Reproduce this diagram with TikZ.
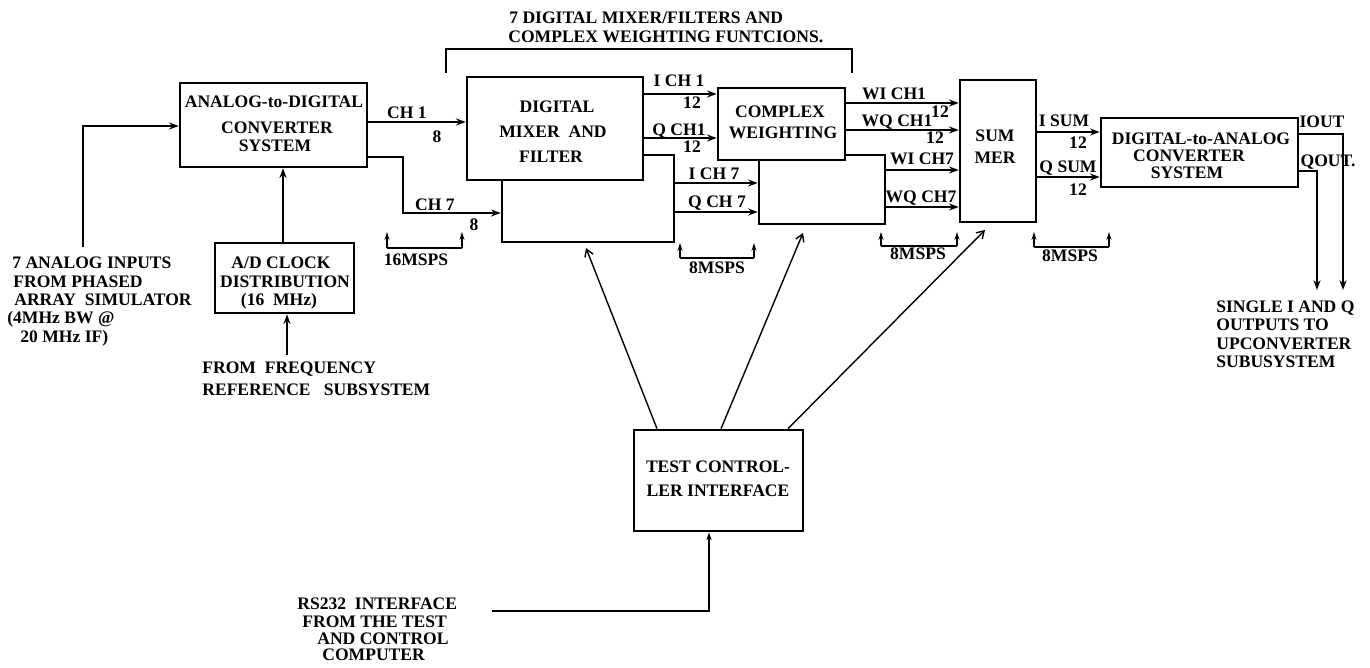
\documentclass[tikz,border=0pt]{standalone}
\usepackage{fontspec}
\setmainfont{Liberation Serif}
\usetikzlibrary{arrows.meta,fit,calc}
\newcommand{\mytxt}[4]{\node[lbl,anchor=base] (#1) at (#2,#3+6) {#4};}
\newcommand{\mytxtl}[4]{\node[lbl,anchor=base west] (#1) at (#2,#3+6) {#4};}
\newcommand{\ratemark}[5]{%
  \coordinate (#1a) at (#2,#4); \coordinate (#1b) at (#3,#4);
  \draw[tickarr] (#1a) -- ++(0,#5-#4);
  \draw[mk] (#1a) -- (#1b);
  \draw[tickarr] (#1b) -- ++(0,#5-#4);}
\begin{document}
\begin{tikzpicture}[x=0.02cm,y=-0.02cm,
  box/.style={draw, line width=1.5pt, inner sep=0pt, fill=white},
  lbl/.style={font=\fontsize{10}{11}\selectfont\bfseries, inner sep=0pt},
  arr/.style={line width=1.1pt, -{Stealth[length=5.5pt,width=4pt]}},
  ln/.style={line width=1.1pt},
  mk/.style={line width=0.9pt},
  thinarr/.style={line width=0.8pt, -{Straight Barb[length=4pt,width=5pt]}},
  tickarr/.style={line width=0.9pt, -{Stealth[length=4.5pt,width=2.8pt]}}]
\useasboundingbox (0,0) rectangle (1370,668);

% boxes (back boxes first)
\node[box, fit={(502,155) (674,242)}] (dmfb) {};
\node[box, fit={(467,77) (643,180)}] (dmf) {};
\node[box, fit={(759,155) (885,224)}] (cwb) {};
\node[box, fit={(718,88) (845,160)}] (cw) {};
\node[box, fit={(180,83) (367,167)}] (adc) {};
\node[box, fit={(215,243) (354,313)}] (clk) {};
\node[box, fit={(960,80) (1036,222)}] (sum) {};
\node[box, fit={(1101,118) (1298,187)}] (dac) {};
\node[box, fit={(634,430) (803,531)}] (tc) {};

% box texts
\mytxt{adc1}{274}{102}{ANALOG-to-DIGITAL}
\mytxt{adc2}{277}{128}{CONVERTER}
\mytxt{adc3}{275}{146}{SYSTEM}
\mytxt{clk1}{281}{263}{A/D CLOCK}
\mytxt{clk2}{285}{282}{DISTRIBUTION}
\mytxt{clk3}{279}{300}{(16\ \ MHz)}
\mytxt{dmf1}{557}{107}{DIGITAL}
\mytxt{dmf2}{553}{132}{MIXER\ \ AND}
\mytxt{dmf3}{551}{157}{FILTER}
\mytxt{cw1}{780}{112}{COMPLEX}
\mytxt{cw2}{783}{133}{WEIGHTING}
\mytxt{sum1}{995}{136}{SUM}
\mytxt{sum2}{995}{158}{MER}
\mytxt{dac1}{1201}{139}{DIGITAL-to-ANALOG}
\mytxt{dac2}{1189}{156}{CONVERTER}
\mytxt{dac3}{1187}{173}{SYSTEM}
\mytxt{tc1}{718}{467}{TEST CONTROL-}
\mytxt{tc2}{718}{491}{LER INTERFACE}

% bracket
\draw[ln] (446,73) -- (446,49) -- (852,49) -- (852,73);
\mytxtl{br1}{509}{18}{7 DIGITAL MIXER/FILTERS AND}
\mytxtl{br2}{508}{37}{COMPLEX WEIGHTING FUNTCIONS.}

% free texts
\mytxtl{in1}{12}{263}{7 ANALOG INPUTS}
\mytxtl{in2}{13}{282}{FROM PHASED}
\mytxtl{in3}{14}{300}{ARRAY\ \ SIMULATOR}
\mytxtl{in4}{7}{318}{(4MHz BW @}
\mytxtl{in5}{20}{337}{20 MHz IF)}
\mytxtl{fq1}{202}{368}{FROM\ \ FREQUENCY}
\mytxtl{fq2}{202}{390}{REFERENCE\ \ \ SUBSYSTEM}
\mytxtl{rs1}{297}{604}{RS232\ \ INTERFACE}
\mytxtl{rs2}{302}{622}{FROM THE TEST}
\mytxtl{rs3}{317}{639}{AND CONTROL}
\mytxtl{rs4}{322}{655}{COMPUTER}
\mytxtl{out1}{1216}{307}{SINGLE I AND Q}
\mytxtl{out2}{1216}{325}{OUTPUTS TO}
\mytxtl{out3}{1216}{344}{UPCONVERTER}
\mytxtl{out4}{1216}{362}{SUBUSYSTEM}

% connector labels
\mytxt{lch1}{407}{113}{CH 1}
\mytxt{lch1n}{437}{137}{8}
\mytxt{lch7}{435}{205}{CH 7}
\mytxt{lch7n}{474}{225}{8}
\mytxt{lic1}{679}{81}{I CH 1}
\mytxt{lic1n}{692}{103}{12}
\mytxt{lqc1}{679}{130}{Q CH1}
\mytxt{lqc1n}{692}{147}{12}
\mytxt{lic7}{714}{174}{I CH 7}
\mytxt{lqc7}{717}{202}{Q CH 7}
\mytxt{lwi1}{894}{94}{WI CH1}
\mytxt{lwi1n}{940}{112}{12}
\mytxt{lwq1}{897}{121}{WQ CH1}
\mytxt{lwq1n}{935}{138}{12}
\mytxt{lwi7}{922}{159}{WI CH7}
\mytxt{lwq7}{921}{197}{WQ CH7}
\mytxt{lis}{1064}{121}{I SUM}
\mytxt{lisn}{1078}{143}{12}
\mytxt{lqs}{1068}{167}{Q SUM}
\mytxt{lqsn}{1078}{190}{12}
\mytxt{lio}{1322}{122}{IOUT}
\mytxt{lqo}{1328}{161}{QOUT.}
\mytxt{r1l}{416}{260}{16MSPS}
\mytxt{r2l}{717}{268}{8MSPS}
\mytxt{r3l}{918}{254}{8MSPS}
\mytxt{r4l}{1070}{256}{8MSPS}

% coordinates for levels
\coordinate (yin) at (0,126);
\coordinate (inS) at (83,247);
\coordinate (xc) at (283,0);
\coordinate (fq) at (287,355);
\coordinate (y1) at (0,122);
\coordinate (y7a) at (0,157);
\coordinate (y7b) at (403,213);
\coordinate (yi1) at (0,94);
\coordinate (yq1) at (0,138);
\coordinate (yi7) at (0,183);
\coordinate (yq7) at (0,212);
\coordinate (ywi1) at (0,103);
\coordinate (ywq1) at (0,130);
\coordinate (ywi7) at (0,170);
\coordinate (ywq7) at (0,207);
\coordinate (yis) at (0,132);
\coordinate (yqs) at (0,177);
\coordinate (yio) at (0,134);
\coordinate (io) at (1343,290);
\coordinate (yqo) at (0,171);
\coordinate (qo) at (1317,290);
\coordinate (b1) at (657,0);
\coordinate (b2) at (721,0);
\coordinate (b3) at (788,0);
\coordinate (t1) at (586,248);
\coordinate (t2) at (803,233);
\coordinate (t3) at (985,230);
\coordinate (rs) at (492,611);
\coordinate (xr) at (709,0);

% connectors
\draw[arr] (inS) |- (adc.west |- yin);
\draw[arr] (clk.north -| xc) -- (adc.south -| xc);
\draw[arr] (fq) -- (clk.south -| fq);
\draw[arr] (adc.east |- y1) -- (dmf.west |- y1);
\draw[arr] (adc.east |- y7a) -| (y7b) -- (dmfb.west |- y7b);
\draw[arr] (dmf.east |- yi1) -- (cw.west |- yi1);
\draw[arr] (dmf.east |- yq1) -- (cw.west |- yq1);
\draw[arr] (dmfb.east |- yi7) -- (cwb.west |- yi7);
\draw[arr] (dmfb.east |- yq7) -- (cwb.west |- yq7);
\draw[arr] (cw.east |- ywi1) -- (sum.west |- ywi1);
\draw[arr] (cw.east |- ywq1) -- (sum.west |- ywq1);
\draw[arr] (cwb.east |- ywi7) -- (sum.west |- ywi7);
\draw[arr] (cwb.east |- ywq7) -- (sum.west |- ywq7);
\draw[arr] (sum.east |- yis) -- (dac.west |- yis);
\draw[arr] (sum.east |- yqs) -- (dac.west |- yqs);
\draw[arr] (dac.east |- yio) -| (io);
\draw[arr] (dac.east |- yqo) -| (qo);
\draw[thinarr] (tc.north -| b1) -- (t1);
\draw[thinarr] (tc.north -| b2) -- (t2);
\draw[thinarr] (tc.north -| b3) -- (t3);
\draw[ln,-{Stealth[length=4.5pt,width=3pt]}] (rs) -| (tc.south -| xr);

% rate markers
\ratemark{r1}{387}{462}{248}{232}
\ratemark{r2}{680}{754}{258}{243}
\ratemark{r3}{881}{957}{246}{232}
\ratemark{r4}{1034}{1109}{247}{232}
\end{tikzpicture}
\end{document}
